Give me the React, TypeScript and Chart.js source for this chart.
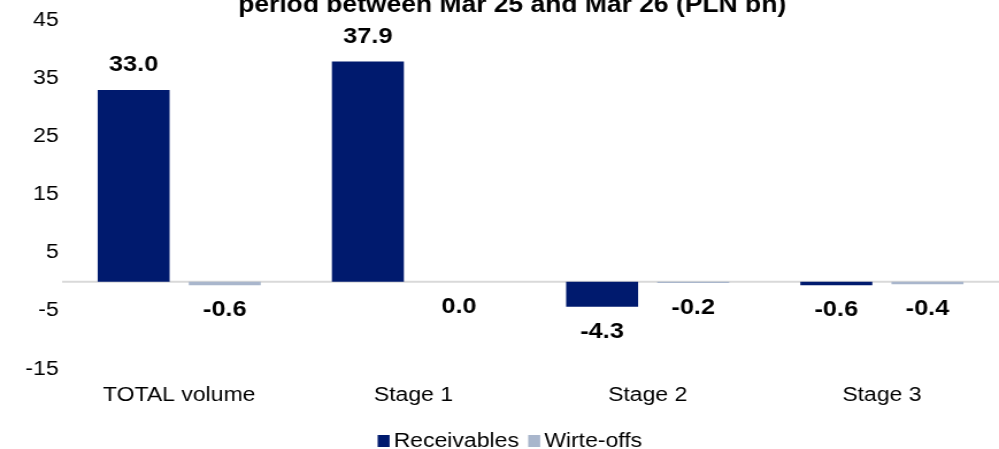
import React, { useEffect, useRef } from "react";
import { Chart, registerables } from "chart.js";
Chart.register(...registerables);

const categories = ["TOTAL volume", "Stage 1", "Stage 2", "Stage 3"];
const receivables = [33.0, 37.9, -4.3, -0.6];
const writeOffs = [-0.6, 0.0, -0.2, -0.4];
const yTicks = [-15, -5, 5, 15, 25, 35, 45];
const seriesNames = ["Receivables", "Wirte-offs"];
const seriesColors = ["#001a6e", "#a9b6cc"];
const titleText = "period between Mar 25 and Mar 26 (PLN bn)";

const FONT = "'Liberation Sans', Arial, sans-serif";
const SX = 1.15;
const CW = Math.round(999 / SX);
const CH = 473;
const OFFSET_Y = 12;
const PAD_LEFT = 22;

const zeroLine = {
  id: "zeroLine",
  beforeDatasetsDraw(chart: any) {
    const { ctx, chartArea, scales } = chart;
    const y = scales.y.getPixelForValue(0);
    ctx.save();
    ctx.strokeStyle = "#d9d9d9";
    ctx.lineWidth = 2;
    ctx.beginPath();
    ctx.moveTo(chartArea.left, y);
    ctx.lineTo(chartArea.right, y);
    ctx.stroke();
    ctx.restore();
  },
};

const dataLabels = {
  id: "dataLabels",
  afterDatasetsDraw(chart: any) {
    const { ctx } = chart;
    ctx.save();
    ctx.font = `bold 22px ${FONT}`;
    ctx.fillStyle = "#000";
    ctx.textAlign = "center";
    ctx.textBaseline = "middle";
    chart.data.datasets.forEach((ds: any, di: number) => {
      const meta = chart.getDatasetMeta(di);
      meta.data.forEach((el: any, i: number) => {
        const v = ds.data[i] as number;
        const y = v > 0 ? el.y - 25 : el.y + 25;
        ctx.fillText(v.toFixed(1), el.x, y);
      });
    });
    ctx.restore();
  },
};

const legendBoxes = {
  id: "legendBoxes",
  afterDraw(chart: any) {
    const legend = chart.legend;
    if (!legend || !legend.legendHitBoxes) return;
    const { ctx } = chart;
    ctx.save();
    legend.legendHitBoxes.forEach((hb: any, i: number) => {
      const w = 12 / SX;
      const h = 12;
      const x = hb.left + 10 - 3.5 - w;
      const cy = hb.top + hb.height / 2;
      ctx.fillStyle = seriesColors[i];
      ctx.fillRect(x, cy - h / 2, w, h);
    });
    ctx.restore();
  },
};

export default function App() {
  const ref = useRef<HTMLCanvasElement>(null);
  useEffect(() => {
    document.body.style.margin = "0";
    Chart.defaults.font.family = FONT;
    const chart = new Chart(ref.current!, {
      type: "bar",
      data: {
        labels: categories,
        datasets: [
          { label: seriesNames[0], data: receivables, backgroundColor: seriesColors[0], categoryPercentage: 0.778, barPercentage: 0.79 },
          { label: seriesNames[1], data: writeOffs, backgroundColor: seriesColors[1], categoryPercentage: 0.778, barPercentage: 0.79 },
        ],
      },
      options: {
        responsive: false,
        animation: false,
        layout: { padding: { left: PAD_LEFT, right: 0, top: 0, bottom: 0 } },
        scales: {
          x: {
            grid: { display: false, drawTicks: false },
            border: { display: false },
            ticks: { color: "#000", font: { size: 20 }, padding: 14 },
            afterFit(scale: any) {
              scale.height = 50;
            },
          },
          y: {
            min: -15,
            max: 45,
            grid: { display: false, drawTicks: false },
            border: { display: false },
            ticks: { color: "#000", font: { size: 20 }, padding: 3 },
            afterBuildTicks(scale: any) {
              scale.ticks = yTicks.map((v) => ({ value: v }));
            },
            afterFit(scale: any) {
              scale.width = 54 - PAD_LEFT;
            },
          },
        },
        plugins: {
          title: {
            display: true,
            text: titleText,
            color: "#000",
            font: { size: 23, weight: "bold" },
            padding: { top: 4, bottom: 0.6 },
          },
          legend: {
            position: "bottom",
            labels: {
              color: "#000",
              font: { size: 20 },
              boxWidth: 0,
              boxHeight: 0,
              padding: 12,
              generateLabels: (c: any) =>
                c.data.datasets.map((ds: any, i: number) => ({
                  text: ds.label,
                  fillStyle: "rgba(0,0,0,0)",
                  strokeStyle: "rgba(0,0,0,0)",
                  lineWidth: 0,
                  fontColor: "#000",
                  hidden: false,
                  datasetIndex: i,
                })),
            },
          },
          tooltip: { enabled: false },
        },
      },
      plugins: [zeroLine, dataLabels, legendBoxes],
    });
    return () => chart.destroy();
  }, []);
  return (
    <div style={{ width: 999, height: 449, overflow: "hidden", position: "relative", background: "#fff" }}>
      <div
        style={{
          position: "absolute",
          top: -OFFSET_Y,
          left: 0,
          width: CW,
          height: CH,
          transform: `scaleX(${999 / CW})`,
          transformOrigin: "0 0",
        }}
      >
        <canvas ref={ref} width={CW} height={CH} />
      </div>
    </div>
  );
}
